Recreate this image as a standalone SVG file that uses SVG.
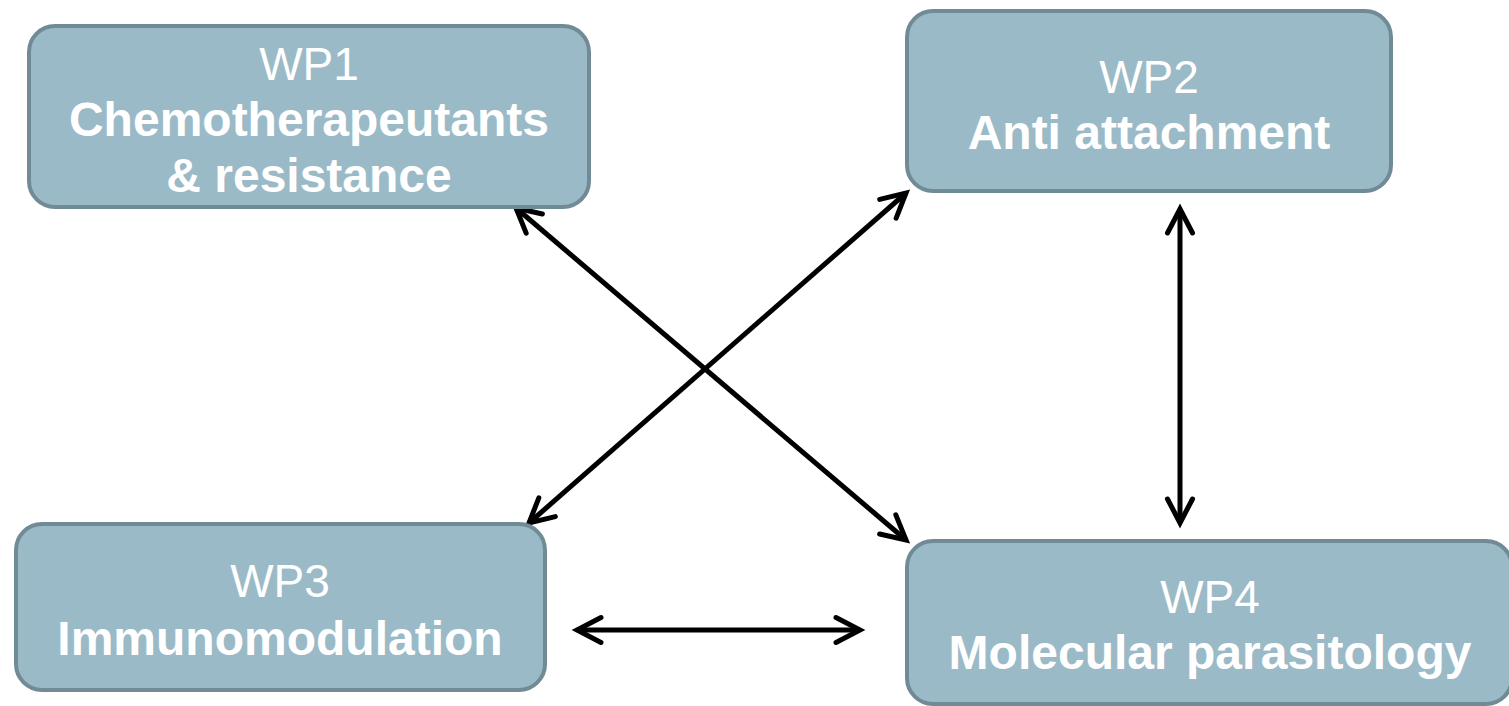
<svg xmlns="http://www.w3.org/2000/svg" width="1509" height="706" viewBox="0 0 1509 706">
<style>
.box{fill:#9bbac7;stroke:#718b96;stroke-width:4}
.t{font-family:"Liberation Sans",Arial,sans-serif;fill:#ffffff;text-anchor:middle}
.wp{font-size:46px}
.b{font-size:48px;font-weight:bold}
.c{stroke:#000;stroke-width:5;fill:none}
</style>
<defs>
<marker id="ah" markerUnits="userSpaceOnUse" viewBox="-40 -20 50 40" refX="0" refY="0" markerWidth="50" markerHeight="40" orient="auto-start-reverse" overflow="visible">
<path d="M -24 -12.5 L 0 0 L -24 12.5" fill="none" stroke="#000" stroke-width="5" stroke-linecap="round" stroke-linejoin="miter"/>
</marker>
</defs>
<rect width="1509" height="706" fill="#ffffff"/>
<g id="connectors">
<line class="c" x1="516" y1="208" x2="906" y2="540" marker-start="url(#ah)" marker-end="url(#ah)"/>
<line class="c" x1="529" y1="523" x2="906" y2="193" marker-start="url(#ah)" marker-end="url(#ah)"/>
<line class="c" x1="1180" y1="209" x2="1180" y2="523" marker-start="url(#ah)" marker-end="url(#ah)"/>
<line class="c" x1="577" y1="630" x2="860" y2="630" marker-start="url(#ah)" marker-end="url(#ah)"/>
</g>
<g id="wp1">
<rect class="box" x="29" y="26" width="560" height="181" rx="26"/>
<text class="t wp" x="309" y="80">WP1</text>
<text class="t b" x="309" y="136">Chemotherapeutants</text>
<text class="t b" x="309" y="192">&amp; resistance</text>
</g>
<g id="wp2">
<rect class="box" x="907" y="11" width="484" height="180" rx="26"/>
<text class="t wp" x="1149" y="93">WP2</text>
<text class="t b" x="1149" y="149">Anti attachment</text>
</g>
<g id="wp3">
<rect class="box" x="16" y="524" width="529" height="166" rx="26"/>
<text class="t wp" x="280" y="597">WP3</text>
<text class="t b" x="280" y="655">Immunomodulation</text>
</g>
<g id="wp4">
<rect class="box" x="907" y="541" width="605" height="163" rx="26"/>
<text class="t wp" x="1210" y="613">WP4</text>
<text class="t b" x="1210" y="669">Molecular parasitology</text>
</g>
</svg>
